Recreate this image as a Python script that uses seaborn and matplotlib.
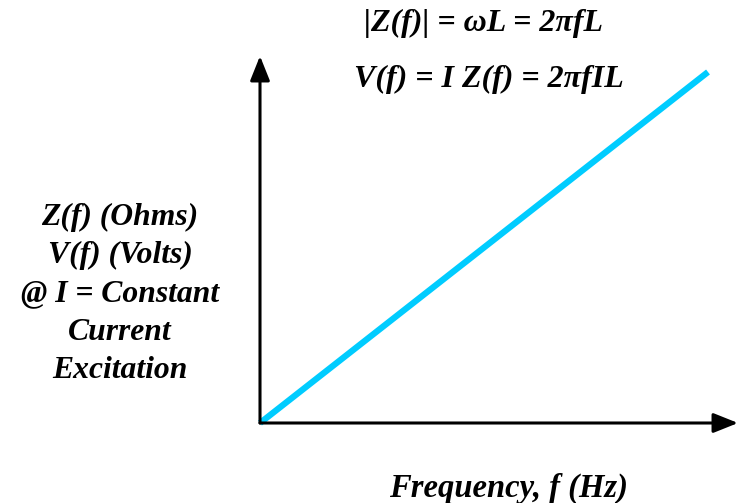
import matplotlib
matplotlib.use("Agg")
import matplotlib.pyplot as plt
import seaborn as sns
import pandas as pd

# Data (normalized, linear relationship)
frequency = [0.0, 1.0]
impedance = [0.0, 1.0]

title_lines = ["|Z(f)| = ωL = 2πfL", "V(f) = I Z(f) = 2πfIL"]
ylabel_lines = ["Z(f) (Ohms)", "V(f) (Volts)", "@ I = Constant", "Current", "Excitation"]
xlabel_text = "Frequency, f (Hz)"

sns.set_style("white")
plt.rcParams['font.family'] = ['Liberation Serif', 'DejaVu Serif']

W, H = 738, 503
fig = plt.figure(figsize=(W / 100, H / 100), dpi=100)
fig.patch.set_facecolor("white")

x0, y0 = 260, 423   # origin pixel
x1, y1 = 708, 72    # end of line pixel
ax = fig.add_axes([x0 / W, (H - y0) / H, (x1 - x0) / W, (y0 - y1) / H])
ax.set_facecolor("none")

df = pd.DataFrame({"f": frequency, "Z": impedance})
sns.lineplot(data=df, x="f", y="Z", ax=ax, color="#00CCFF", linewidth=4.5,
             solid_capstyle="butt", clip_on=False)
ax.set_xlim(0, 1)
ax.set_ylim(0, 1)
for s in ax.spines.values():
    s.set_visible(False)
ax.set_xticks([])
ax.set_yticks([])
ax.set_xlabel("")
ax.set_ylabel("")

# Axis arrows (axes fraction coordinates)
xtip = (738 - x0) / (x1 - x0)
ytip = (y0 - 56) / (y0 - y1)
arrowprops = dict(arrowstyle="-|>,head_length=1.5,head_width=0.6", color="black",
                  lw=2.2, shrinkA=0, shrinkB=0)
ax.annotate("", xy=(xtip, 0), xytext=(0, 0), xycoords="axes fraction",
            textcoords="axes fraction", arrowprops=arrowprops, annotation_clip=False)
ax.annotate("", xy=(0, ytip), xytext=(0, 0), xycoords="axes fraction",
            textcoords="axes fraction", arrowprops=arrowprops, annotation_clip=False)

txt = dict(fontweight="bold", fontstyle="italic", color="black",
           ha="center", va="center")
fig.text(484 / W, 1 - 23 / H, title_lines[0], fontsize=23, **txt)
fig.text(489 / W, 1 - 79 / H, title_lines[1], fontsize=23, **txt)
ys = [217, 255, 294, 332, 370]
for line, yy in zip(ylabel_lines, ys):
    fig.text(120 / W, 1 - yy / H, line, fontsize=22.8, **txt)
fig.text(509 / W, 1 - 488 / H, xlabel_text, fontsize=23.5, **txt)

fig.savefig("out.png", dpi=100)
